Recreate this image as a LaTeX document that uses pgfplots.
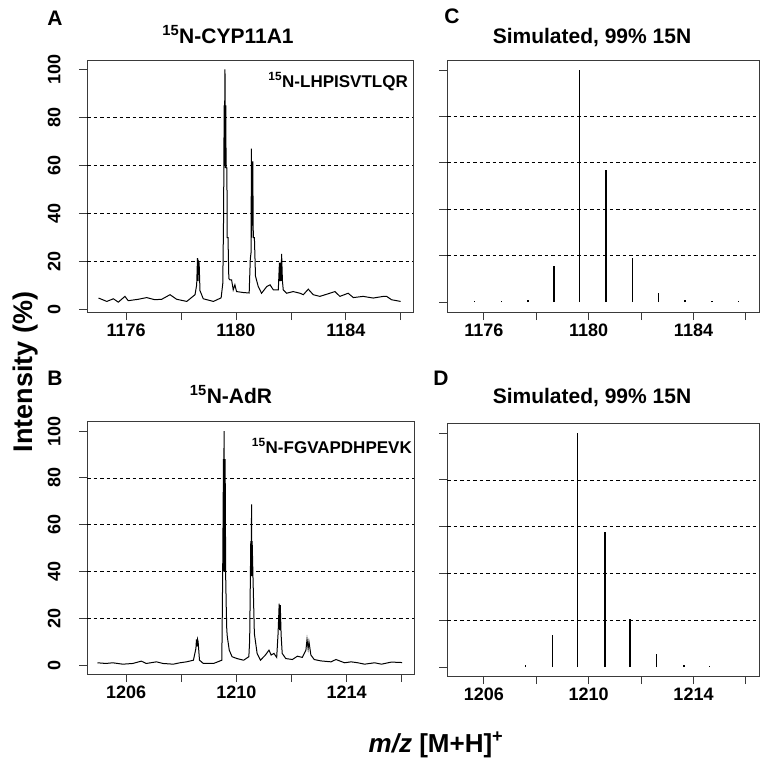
\documentclass[border=0pt]{standalone}
\usepackage{pgfplots}
\pgfplotsset{compat=1.18}
\usepackage{fontspec}
\setmainfont{Liberation Sans}
\definecolor{boxgray}{HTML}{3A3A3A}
\pgfplotsset{
  msbase/.style={
    scale only axis,
    anchor=south west,
    axis line style={boxgray, line width=0.9pt},
    every tick/.style={boxgray, line width=0.9pt},
    tick align=outside,
    major tick length=8pt,
    xtick pos=bottom, ytick pos=left,
    /pgf/number format/assume math mode=true,
    ticklabel style={font=\bfseries\fontsize{18}{18}\selectfont},
    ytick={0,100},
    extra y ticks={20,40,60,80},
    extra y tick style={grid=major},
    major grid style={black, line width=0.7pt, dash pattern=on 3.5pt off 3pt},
    yticklabel style={rotate=90, anchor=south},
    yticklabel shift=15pt,
    clip=true,
  },
  spec/.style={black, line width=1pt, mark=none},
  stick/.style={black, line width=1.3pt, mark=none, ycomb},
}
\pgfplotstableread{
x y
1175.00 4.9
1175.30 3.5
1175.54 4.6
1175.72 3.2
1175.96 5.6
1176.08 3.8
1176.45 4.4
1176.75 5.1
1177.05 4.2
1177.30 4.4
1177.60 6.3
1177.84 4.4
1178.21 3.5
1178.51 6.3
1178.57 10.4
1178.60 21.5
1178.62 12
1178.64 20
1178.66 19.4
1178.69 8
1178.81 4.6
1179.18 3.5
1179.46 5
1179.52 11
1179.55 40
1179.57 85
1179.58 60
1179.59 85
1179.60 100
1179.61 59
1179.63 85
1179.64 59
1179.67 59
1179.68 30
1179.71 30
1179.74 13
1179.78 12.5
1179.84 12.5
1179.90 8.3
1179.96 10.4
1180.02 7.6
1180.27 7.2
1180.48 7
1180.52 21
1180.55 24
1180.56 67
1180.57 30
1180.58 61.7
1180.60 35
1180.61 61.7
1180.63 30
1180.67 30
1180.71 14
1180.81 9.7
1180.93 6.9
1181.12 9.7
1181.24 10.4
1181.36 8.3
1181.54 8.3
1181.58 19.6
1181.60 12
1181.62 19.6
1181.64 12
1181.66 23.3
1181.69 12
1181.72 8.3
1181.84 6.9
1182.08 7.6
1182.33 6.9
1182.45 6.3
1182.63 8.6
1182.81 6.3
1183.05 5.6
1183.36 6.7
1183.60 7.6
1183.78 5.6
1184.08 6.9
1184.27 5.1
1184.63 5.6
1184.99 4.9
1185.36 5.6
1185.48 5.6
1185.66 4.2
1185.99 3.5
}\dataA
\pgfplotstableread{
x y
1204.96 1.0
1205.27 0.7
1205.51 1.0
1205.88 0.4
1206.24 0.7
1206.55 1.7
1206.73 0.7
1207.10 1.4
1207.34 0.7
1207.71 0.4
1207.95 1.0
1208.19 1.4
1208.44 2.1
1208.53 7.1
1208.55 11
1208.57 8
1208.59 11
1208.61 10
1208.66 2.1
1208.80 0.7
1209.17 0.7
1209.47 2.1
1209.50 37.7
1209.53 88
1209.54 40
1209.55 100
1209.56 40
1209.57 88
1209.58 40
1209.59 88
1209.61 37.7
1209.63 25
1209.65 15
1209.67 12
1209.74 6.4
1209.84 3.6
1210.02 2.8
1210.26 2.1
1210.45 3.6
1210.48 10.7
1210.52 53
1210.53 38
1210.55 68.7
1210.56 38
1210.57 53
1210.60 37.7
1210.65 13.5
1210.75 5.0
1210.87 2.1
1211.05 4.3
1211.18 6.4
1211.26 4.3
1211.36 5.0
1211.46 3.3
1211.51 13.5
1211.55 26.3
1211.57 15
1211.59 25.6
1211.62 13
1211.66 5.0
1211.79 2.8
1212.03 2.4
1212.21 3.8
1212.39 3.3
1212.52 6.4
1212.56 11
1212.60 7
1212.63 10
1212.70 4.3
1212.82 2.4
1213.06 1.8
1213.43 1.4
1213.61 2.4
1213.92 1.0
1214.16 1.4
1214.40 1.0
1214.65 0.4
1215.01 1.0
1215.26 0.4
1215.62 1.3
1216.01 1.1
}\dataB
\pgfplotstableread{
x y
1175.64 0.4
1176.66 0.4
1177.68 1.0
1178.67 15.4
1179.64 100
1180.66 57.1
1181.68 19.1
1182.66 3.9
1183.68 1.0
1184.70 0.4
1185.72 0.4
}\dataC
\pgfplotstableread{
x y
1207.59 0.7
1208.61 13.6
1209.58 100
1210.62 57.9
1211.57 20.7
1212.59 5.7
1213.64 1.1
1214.61 0.4
}\dataD
\begin{document}
\begin{tikzpicture}
\useasboundingbox (0pt,0pt) rectangle (768pt,-763pt);
% Panel A
\begin{axis}[msbase, at={(87pt,-312pt)}, width=326pt, height=252pt,
  xmin=1174.58, xmax=1186.44, ymin=-0.9, ymax=103.9,
  xtick={1176,1178,...,1186}, xticklabels={1176,,1180,,1184,}]
\addplot[spec] table[x=x,y=y]{\dataA};
\end{axis}
% Panel C
\begin{axis}[msbase, at={(447pt,-312pt)}, width=312pt, height=252pt,
  xmin=1174.59, xmax=1186.5, ymin=-4.3, ymax=104.3,
  xtick={1176,1178,...,1186}, xticklabels={1176,,1180,,1184,},
  yticklabels={}, extra y tick labels={}]
\addplot[stick] table[x=x,y=y]{\dataC};
\end{axis}
% Panel B
\begin{axis}[msbase, at={(87pt,-674pt)}, width=327pt, height=253pt,
  xmin=1204.58, xmax=1216.44, ymin=-3.8, ymax=104.3,
  xtick={1206,1208,...,1216}, xticklabels={1206,,1210,,1214,}]
\addplot[spec] table[x=x,y=y]{\dataB};
\end{axis}
% Panel D
\begin{axis}[msbase, at={(447pt,-676pt)}, width=312pt, height=253pt,
  xmin=1204.59, xmax=1216.5, ymin=-3.8, ymax=104.3,
  xtick={1206,1208,...,1216}, xticklabels={1206,,1210,,1214,},
  yticklabels={}, extra y tick labels={}]
\addplot[stick] table[x=x,y=y]{\dataD};
\end{axis}
% letters
\begin{scope}[every node/.style={font=\bfseries\fontsize{21}{21}\selectfont, inner sep=0pt}]
\node[anchor=base] at (55pt,-25pt) {A};
\node[anchor=base] at (55pt,-385pt) {B};
\node[anchor=base] at (452pt,-23pt) {C};
\node[anchor=base] at (441pt,-385pt) {D};
\node[anchor=base] at (228pt,-43pt) {\textsuperscript{15}N-CYP11A1};
\node[anchor=base] at (592pt,-43pt) {Simulated, 99\% 15N};
\node[anchor=base] at (231pt,-403pt) {\textsuperscript{15}N-AdR};
\node[anchor=base] at (592pt,-403pt) {Simulated, 99\% 15N};
\end{scope}
\node[anchor=base east, inner sep=0pt, font=\bfseries\fontsize{17}{17}\selectfont] at (408pt,-87pt) {\textsuperscript{15}N-LHPISVTLQR};
\node[anchor=base east, inner sep=0pt, font=\bfseries\fontsize{17}{17}\selectfont] at (412pt,-453pt) {\textsuperscript{15}N-FGVAPDHPEVK};
\node[rotate=90, anchor=base, inner sep=0pt, font=\bfseries\fontsize{27}{27}\selectfont] at (32pt,-372pt) {Intensity (\%)};
\node[anchor=base, inner sep=0pt, font=\bfseries\fontsize{26}{26}\selectfont] at (436pt,-752pt) {\textit{m/z} [M+H]\textsuperscript{+}};
\end{tikzpicture}
\end{document}
